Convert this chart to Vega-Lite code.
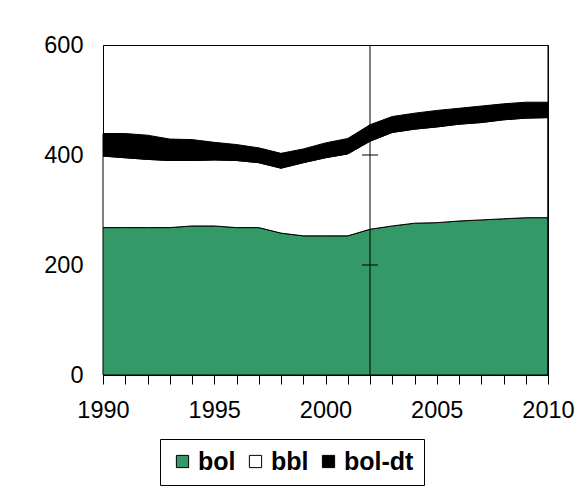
{
  "$schema": "https://vega.github.io/schema/vega-lite/v6.json",
  "width": 445,
  "height": 330,
  "autosize": "none",
  "padding": {"left": 103, "top": 45, "right": 31, "bottom": 113},
  "background": "white",
  "config": {
    "font": "Liberation Sans",
    "view": {"stroke": "black", "strokeWidth": 1},
    "axis": {"grid": false, "zindex": 1, "labelFont": "Liberation Sans", "labelColor": "black", "labelFontSize": 23.5, "domainColor": "black", "tickColor": "black", "labelOverlap": false},
    "axisX": {"labelOverlap": false}
  },
  "encoding": {
    "x": {
      "field": "year", "type": "quantitative",
      "scale": {"domain": [1990, 2010], "nice": false, "zero": false},
      "axis": {
        "title": null,
        "values": [1990,1991,1992,1993,1994,1995,1996,1997,1998,1999,2000,2001,2002,2003,2004,2005,2006,2007,2008,2009,2010],
        "labelExpr": "datum.value % 5 === 0 ? datum.label : ''",
        "format": "d",
        "tickSize": 9,
        "labelPadding": 14,
        "labelFlush": false,
        "labelOverlap": false,
        "labelBound": false
      }
    }
  },
  "layer": [
    {
      "data": {
        "values": [
          {"year": 1990, "series": "bol", "value": 268}, {"year": 1990, "series": "bbl", "value": 130}, {"year": 1990, "series": "bol-dt", "value": 41},
          {"year": 1991, "series": "bol", "value": 268}, {"year": 1991, "series": "bbl", "value": 127}, {"year": 1991, "series": "bol-dt", "value": 44},
          {"year": 1992, "series": "bol", "value": 268}, {"year": 1992, "series": "bbl", "value": 124}, {"year": 1992, "series": "bol-dt", "value": 44},
          {"year": 1993, "series": "bol", "value": 268}, {"year": 1993, "series": "bbl", "value": 122}, {"year": 1993, "series": "bol-dt", "value": 39},
          {"year": 1994, "series": "bol", "value": 271}, {"year": 1994, "series": "bbl", "value": 119}, {"year": 1994, "series": "bol-dt", "value": 38},
          {"year": 1995, "series": "bol", "value": 271}, {"year": 1995, "series": "bbl", "value": 120}, {"year": 1995, "series": "bol-dt", "value": 32},
          {"year": 1996, "series": "bol", "value": 268}, {"year": 1996, "series": "bbl", "value": 122}, {"year": 1996, "series": "bol-dt", "value": 29},
          {"year": 1997, "series": "bol", "value": 268}, {"year": 1997, "series": "bbl", "value": 118}, {"year": 1997, "series": "bol-dt", "value": 27},
          {"year": 1998, "series": "bol", "value": 258}, {"year": 1998, "series": "bbl", "value": 118}, {"year": 1998, "series": "bol-dt", "value": 27},
          {"year": 1999, "series": "bol", "value": 253}, {"year": 1999, "series": "bbl", "value": 133}, {"year": 1999, "series": "bol-dt", "value": 25},
          {"year": 2000, "series": "bol", "value": 253}, {"year": 2000, "series": "bbl", "value": 142}, {"year": 2000, "series": "bol-dt", "value": 27},
          {"year": 2001, "series": "bol", "value": 253}, {"year": 2001, "series": "bbl", "value": 149}, {"year": 2001, "series": "bol-dt", "value": 28},
          {"year": 2002, "series": "bol", "value": 265}, {"year": 2002, "series": "bbl", "value": 160}, {"year": 2002, "series": "bol-dt", "value": 30},
          {"year": 2003, "series": "bol", "value": 271}, {"year": 2003, "series": "bbl", "value": 170}, {"year": 2003, "series": "bol-dt", "value": 29},
          {"year": 2004, "series": "bol", "value": 276}, {"year": 2004, "series": "bbl", "value": 171}, {"year": 2004, "series": "bol-dt", "value": 29},
          {"year": 2005, "series": "bol", "value": 277}, {"year": 2005, "series": "bbl", "value": 174}, {"year": 2005, "series": "bol-dt", "value": 30},
          {"year": 2006, "series": "bol", "value": 280}, {"year": 2006, "series": "bbl", "value": 176}, {"year": 2006, "series": "bol-dt", "value": 29},
          {"year": 2007, "series": "bol", "value": 282}, {"year": 2007, "series": "bbl", "value": 177}, {"year": 2007, "series": "bol-dt", "value": 30},
          {"year": 2008, "series": "bol", "value": 284}, {"year": 2008, "series": "bbl", "value": 180}, {"year": 2008, "series": "bol-dt", "value": 29},
          {"year": 2009, "series": "bol", "value": 286}, {"year": 2009, "series": "bbl", "value": 181}, {"year": 2009, "series": "bol-dt", "value": 29},
          {"year": 2010, "series": "bol", "value": 286}, {"year": 2010, "series": "bbl", "value": 182}, {"year": 2010, "series": "bol-dt", "value": 28}
        ]
      },
      "transform": [{"calculate": "indexof(['bol','bbl','bol-dt'], datum.series)", "as": "ord"}],
      "mark": {"type": "area", "stroke": "black", "strokeWidth": 1, "opacity": 1},
      "encoding": {
        "y": {
          "field": "value", "type": "quantitative", "stack": "zero",
          "scale": {"domain": [0, 600], "nice": false},
          "axis": {"title": null, "values": [0, 200, 400, 600], "ticks": false, "labelPadding": 20}
        },
        "order": {"field": "ord", "type": "quantitative", "sort": "ascending"},
        "color": {
          "field": "series", "type": "nominal",
          "sort": ["bol", "bbl", "bol-dt"],
          "scale": {"domain": ["bol", "bbl", "bol-dt"], "range": ["#339966", "#ffffff", "#000000"]},
          "legend": {
            "title": null,
            "orient": "none",
            "legendX": 57,
            "legendY": 394,
            "direction": "horizontal",
            "gridAlign": "none",
            "symbolType": "square",
            "symbolSize": 150,
            "symbolOpacity": 1,
            "symbolStrokeColor": "black",
            "symbolStrokeWidth": 1,
            "labelFont": "Liberation Sans",
            "labelFontSize": 25,
            "labelFontWeight": "bold",
            "labelColor": "black",
            "labelOffset": 3,
            "columnPadding": 7,
            "strokeColor": "black",
            "padding": 10,
            "encode": {"symbols": {"update": {"stroke": {"value": "black"}, "strokeWidth": {"value": 1}}}}
          }
        }
      }
    },
    {
      "data": {"values": [{"year": 2002}, {"year": 2010}]},
      "mark": {"type": "rule", "color": "black", "strokeWidth": 1}
    },
    {
      "data": {"values": [{"year": 2002, "value": 200}, {"year": 2002, "value": 400}]},
      "mark": {"type": "tick", "orient": "horizontal", "color": "black", "size": 16, "thickness": 1, "opacity": 1},
      "encoding": {
        "y": {"field": "value", "type": "quantitative"}
      }
    }
  ]
}
